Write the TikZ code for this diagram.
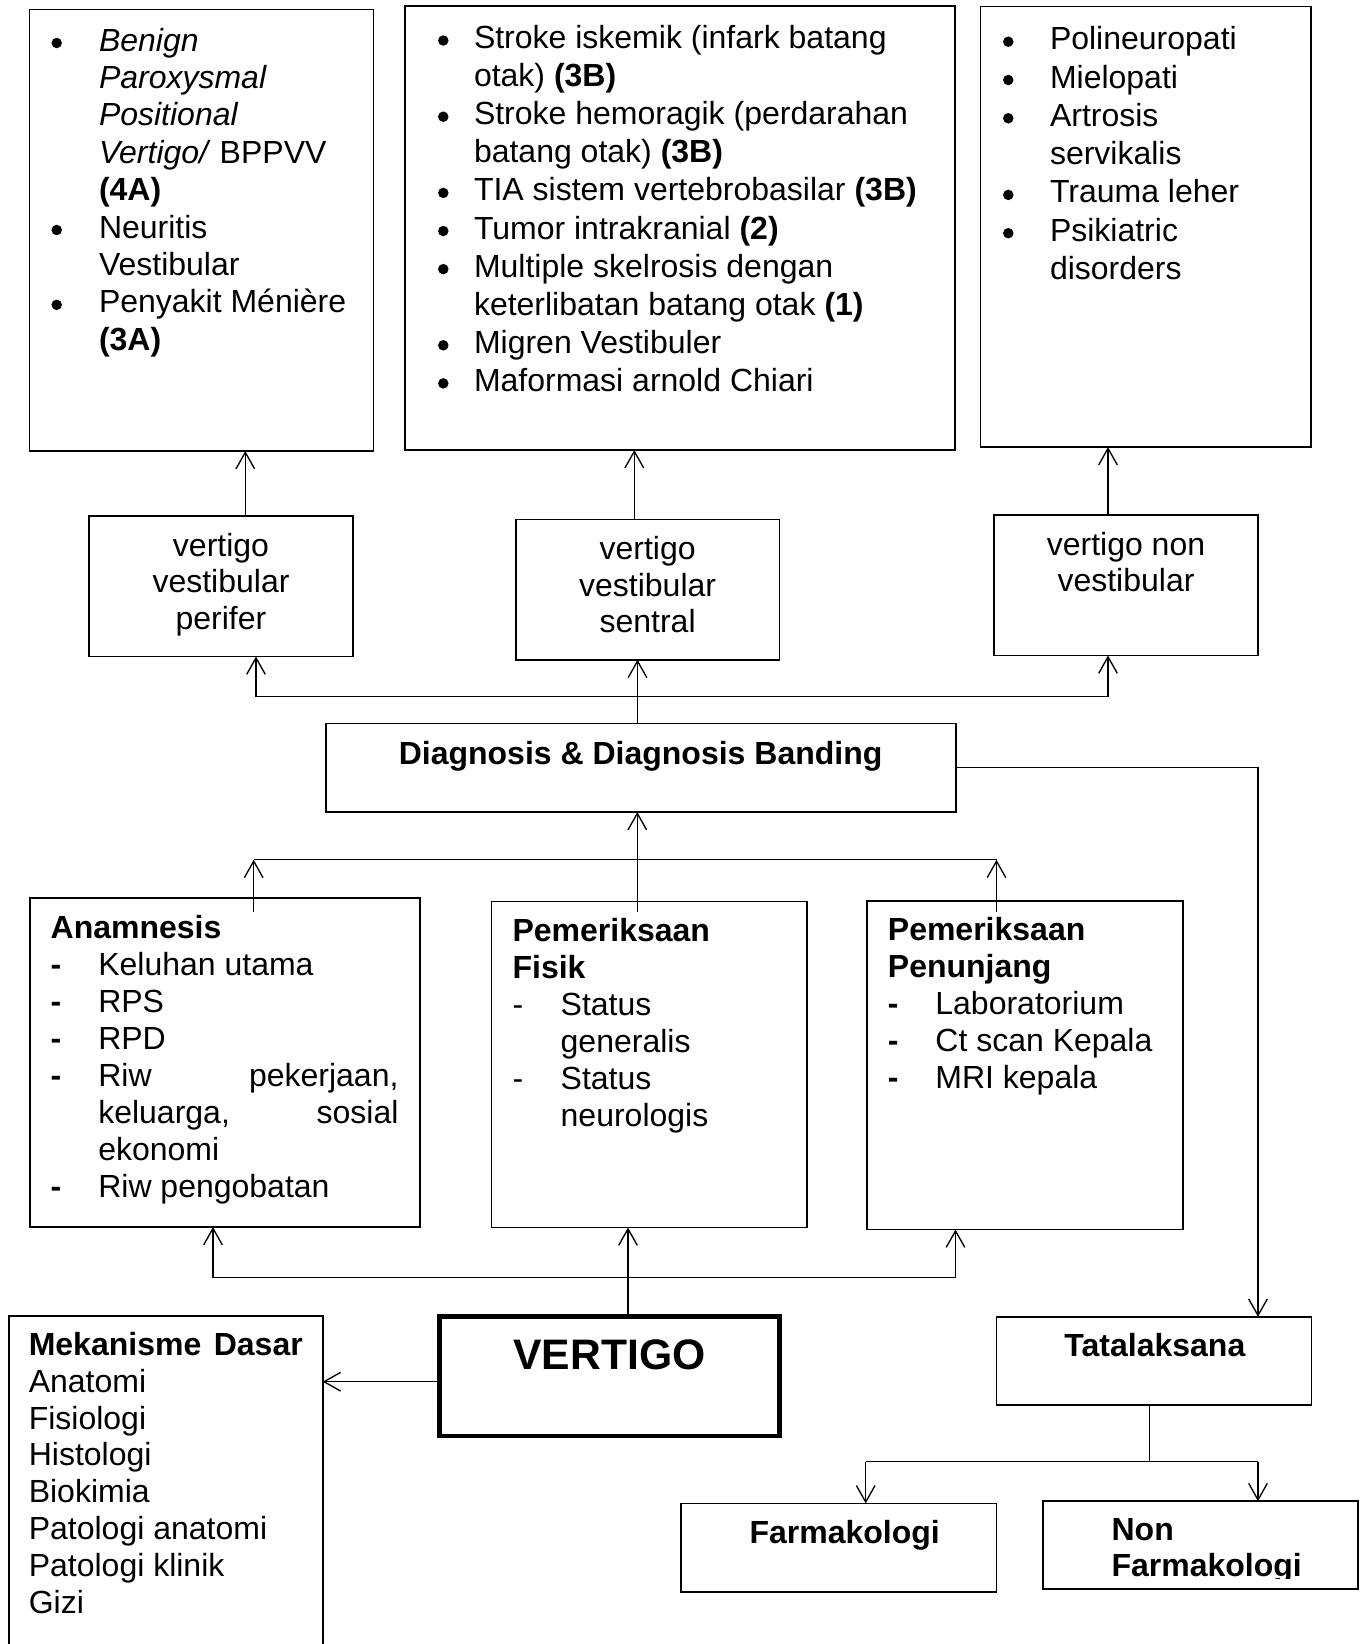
\documentclass[tikz,border=0pt]{standalone}
\usepackage{fontspec}
\setmainfont{Liberation Sans}
\usetikzlibrary{arrows.meta}
\newdimen\pxu \pxu=0.375pt
\tikzset{
 box/.style={draw, line width=0.6pt, inner sep=0pt, outer sep=0pt},
 txt/.style={inner sep=0pt, outer sep=0pt, font=\fontsize{12pt}{14pt}\selectfont},
 bul/.style={circle, fill, inner sep=0pt, minimum size=10.5\pxu},
 conn/.style={line width=0.5pt},
 arr/.style={conn, -{Straight Barb[length=6.2pt,width=7pt]}},
}
\newcommand{\BX}[6][]{%
  \pgfmathsetmacro{\bxcx}{(#3+#5)/2}\pgfmathsetmacro{\bxcy}{(#4+#6)/2}%
  \pgfmathsetmacro{\bxw}{#5-#3}\pgfmathsetmacro{\bxh}{#6-#4}%
  \node[box,#1,minimum width=\bxw\pxu,minimum height=\bxh\pxu] (#2) at (\bxcx,\bxcy) {};}
\newcommand{\TL}[4]{\node[txt,anchor=base west] (#1) at (#2,#3) {#4};}
\newcommand{\TC}[4]{\node[txt,anchor=base] (#1) at (#2,#3) {#4};}
\newcommand{\BU}[3]{\node[bul] (#1) at (#2,#3) {};}
\begin{document}
\begin{tikzpicture}[x=0.375pt,y=-0.375pt]
\useasboundingbox (0,0) rectangle (1367,1644);
\clip (0,0) rectangle (1367,1644);
\fill[white] (0,0) rectangle (1367,1644);
% boxes
\BX{b1}{29.5}{9.5}{373.3}{451}
\BX{b2}{405}{6}{955}{450}
\BX{b3}{980.5}{6.3}{1310.7}{447}
\BX{vvp}{89}{516}{353}{656.5}
\BX{vvs}{516}{519.3}{779.3}{659.7}
\BX{vnv}{994}{515}{1257.8}{655.5}
\BX{ddb}{326}{723.3}{956.1}{812}
\BX{an}{30}{897.7}{420.2}{1227}
\BX{fis}{491.6}{901.3}{807.2}{1227.5}
\BX{pen}{867}{900.7}{1182.7}{1229.5}
\BX[line width=1.7pt]{vert}{439.5}{1316.3}{779.5}{1435.8}
\BX{mek}{8.7}{1316}{322.7}{1700}
\BX{tata}{996.3}{1316.8}{1311.5}{1405}
\BX{farm}{681.2}{1503.4}{996.3}{1591.7}
\BX{nonf}{1042.9}{1501.2}{1357.7}{1588.8}
% connectors, top level
\coordinate (xa) at (245.3,0);
\coordinate (xb) at (634.3,0);
\coordinate (xc) at (1108,0);
\draw[arr] (xa |- vvp.north) -- (xa |- b1.south);
\draw[arr] (xb |- vvs.north) -- (xb |- b2.south);
\draw[arr] (xc |- vnv.north) -- (xc |- b3.south);
% DDB to middle row
\coordinate (h1) at (637.5,696.5);
\coordinate (xd) at (256,0);
\draw[arr] (h1 |- ddb.north) -- (h1 |- vvs.south);
\draw[conn] (xd |- h1) -- (xc |- h1);
\draw[arr] (xd |- h1) -- (xd |- vvp.south);
\draw[arr] (xc |- h1) -- (xc |- vnv.south);
% DDB to Tatalaksana
\coordinate (xt) at (1258,0);
\draw[arr] (ddb.east) -| (xt |- tata.north);
% exam row to DDB
\coordinate (h2) at (637.3,859.8);
\coordinate (xf) at (253.7,0);
\coordinate (xg) at (996.5,0);
\coordinate (yin) at (0,911.7);
\draw[arr] (h2 |- yin) -- (h2 |- ddb.south);
\draw[conn] (xf |- h2) -- (xg |- h2);
\draw[arr] (xf |- yin) -- (xf |- h2);
\draw[arr] (xg |- yin) -- (xg |- h2);
% VERTIGO to exam row
\coordinate (h3) at (628,1277.8);
\coordinate (xh) at (213,0);
\coordinate (xi) at (955.5,0);
\draw[arr] (h3 |- vert.north) -- (h3 |- fis.south);
\draw[conn] (xh |- h3) -- (xi |- h3);
\draw[arr] (xh |- h3) -- (xh |- an.south);
\draw[arr] (xi |- h3) -- (xi |- pen.south);
% VERTIGO to Mekanisme
\coordinate (ym) at (0,1381.7);
\draw[arr] (ym -| vert.west) -- (ym -| mek.east);
% Tatalaksana to Farmakologi / Non
\coordinate (h4) at (1149.5,1461.5);
\coordinate (xj) at (865.7,0);
\draw[conn] (h4 |- tata.south) -- (h4);
\draw[conn] (xj |- h4) -- (xt |- h4);
\draw[arr] (xj |- h4) -- (xj |- farm.north);
\draw[arr] (xt |- h4) -- (xt |- nonf.north);
% box 1 text
\BU{u11}{56.7}{43}
\TL{t11}{99}{51}{\textit{Benign}}
\TL{t12}{99}{88.4}{\textit{Paroxysmal}}
\TL{t13}{99}{125.8}{\textit{Positional}}
\TL{t14}{99}{163.2}{\textit{Vertigo/} BPPVV}
\TL{t15}{99}{200.6}{\textbf{(4A)}}
\BU{u12}{56.7}{230}
\TL{t16}{99}{238}{Neuritis}
\TL{t17}{99}{275.4}{Vestibular}
\BU{u13}{56.7}{304.8}
\TL{t18}{99}{312.8}{Penyakit Ménière}
\TL{t19}{99}{350.2}{\textbf{(3A)}}
% box 2 text
\BU{u21}{443.3}{40.5}
\TL{t21}{474}{48.5}{Stroke iskemik (infark batang}
\TL{t22}{474}{86.6}{otak) \textbf{(3B)}}
\BU{u22}{443.3}{116.7}
\TL{t23}{474}{124.7}{Stroke hemoragik (perdarahan}
\TL{t24}{474}{162.8}{batang otak) \textbf{(3B)}}
\BU{u23}{443.3}{192.9}
\TL{t25}{474}{200.9}{TIA sistem vertebrobasilar \textbf{(3B)}}
\BU{u24}{443.3}{231}
\TL{t26}{474}{239}{Tumor intrakranial \textbf{(2)}}
\BU{u25}{443.3}{269.1}
\TL{t27}{474}{277.1}{Multiple skelrosis dengan}
\TL{t28}{474}{315.2}{keterlibatan batang otak \textbf{(1)}}
\BU{u26}{443.3}{345.3}
\TL{t29}{474}{353.3}{Migren Vestibuler}
\BU{u27}{443.3}{383.4}
\TL{t2a}{474}{391.4}{Maformasi arnold Chiari}
% box 3 text
\BU{u31}{1008.3}{41.7}
\TL{t31}{1050}{49.7}{Polineuropati}
\BU{u32}{1008.3}{80}
\TL{t32}{1050}{88}{Mielopati}
\BU{u33}{1008.3}{118.3}
\TL{t33}{1050}{126.3}{Artrosis}
\TL{t34}{1050}{164.6}{servikalis}
\BU{u34}{1008.3}{194.9}
\TL{t35}{1050}{202.9}{Trauma leher}
\BU{u35}{1008.3}{233.2}
\TL{t36}{1050}{241.2}{Psikiatric}
\TL{t37}{1050}{279.5}{disorders}
% middle row
\TC{p1}{221}{556}{vertigo}
\TC{p2}{221}{592.7}{vestibular}
\TC{p3}{221}{629.3}{perifer}
\TC{s1}{647.6}{559.3}{vertigo}
\TC{s2}{647.6}{596}{vestibular}
\TC{s3}{647.6}{632.7}{sentral}
\TC{n1}{1126}{555}{vertigo non}
\TC{n2}{1126}{591.7}{vestibular}
\TC{d1}{640.6}{764}{\textbf{Diagnosis \& Diagnosis Banding}}
% Anamnesis
\TL{a0}{50.7}{938}{\textbf{Anamnesis}}
\TL{ad1}{50.7}{975.1}{\textbf{-}}
\TL{a1}{98.3}{975.1}{Keluhan utama}
\TL{ad2}{50.7}{1012.2}{\textbf{-}}
\TL{a2}{98.3}{1012.2}{RPS}
\TL{ad3}{50.7}{1049.3}{\textbf{-}}
\TL{a3}{98.3}{1049.3}{RPD}
\TL{ad4}{50.7}{1086.4}{\textbf{-}}
\TL{a4}{98.3}{1086.4}{\makebox[300.2\pxu][s]{Riw pekerjaan,}}
\TL{a5}{98.3}{1123.5}{\makebox[300.2\pxu][s]{keluarga, sosial}}
\TL{a6}{98.3}{1160.6}{ekonomi}
\TL{ad7}{50.7}{1197.7}{\textbf{-}}
\TL{a7}{98.3}{1197.7}{Riw pengobatan}
% Fisik
\TL{f0}{512.6}{941}{\textbf{Pemeriksaan}}
\TL{f1}{512.6}{978}{\textbf{Fisik}}
\TL{fd1}{512.6}{1015}{-}
\TL{f2}{560.7}{1015}{Status}
\TL{f3}{560.7}{1052}{generalis}
\TL{fd2}{512.6}{1089}{-}
\TL{f4}{560.7}{1089}{Status}
\TL{f5}{560.7}{1126}{neurologis}
% Penunjang
\TL{e0}{887.9}{940.5}{\textbf{Pemeriksaan}}
\TL{e1}{887.9}{977.5}{\textbf{Penunjang}}
\TL{ed1}{887.9}{1014.5}{\textbf{-}}
\TL{e2}{935.4}{1014.5}{Laboratorium}
\TL{ed2}{887.9}{1051.5}{\textbf{-}}
\TL{e3}{935.4}{1051.5}{Ct scan Kepala}
\TL{ed3}{887.9}{1088.5}{\textbf{-}}
\TL{e4}{935.4}{1088.5}{MRI kepala}
% Mekanisme
\TL{m0}{28.8}{1355.5}{\makebox[274\pxu][s]{\bfseries Mekanisme Dasar}}
\TL{m1}{28.8}{1392.3}{Anatomi}
\TL{m2}{28.8}{1429.1}{Fisiologi}
\TL{m3}{28.8}{1465.9}{Histologi}
\TL{m4}{28.8}{1502.7}{Biokimia}
\TL{m5}{28.8}{1539.5}{Patologi anatomi}
\TL{m6}{28.8}{1576.3}{Patologi klinik}
\TL{m7}{28.8}{1613.1}{Gizi}
% VERTIGO and Tatalaksana
\node[txt,anchor=base,font=\fontsize{16pt}{18pt}\selectfont\bfseries] (v0) at (609.5,1369.3) {VERTIGO};
\TC{k0}{1155}{1356.7}{\textbf{Tatalaksana}}
\TC{g0}{844.7}{1543.3}{\textbf{Farmakologi}}
\TL{g1}{1111.6}{1540}{\textbf{Non}}
\begin{scope}
\clip (1043,1501) rectangle (1357,1578.5);
\TL{g2}{1111.6}{1576}{\textbf{Farmakologi}}
\end{scope}
\end{tikzpicture}
\end{document}
